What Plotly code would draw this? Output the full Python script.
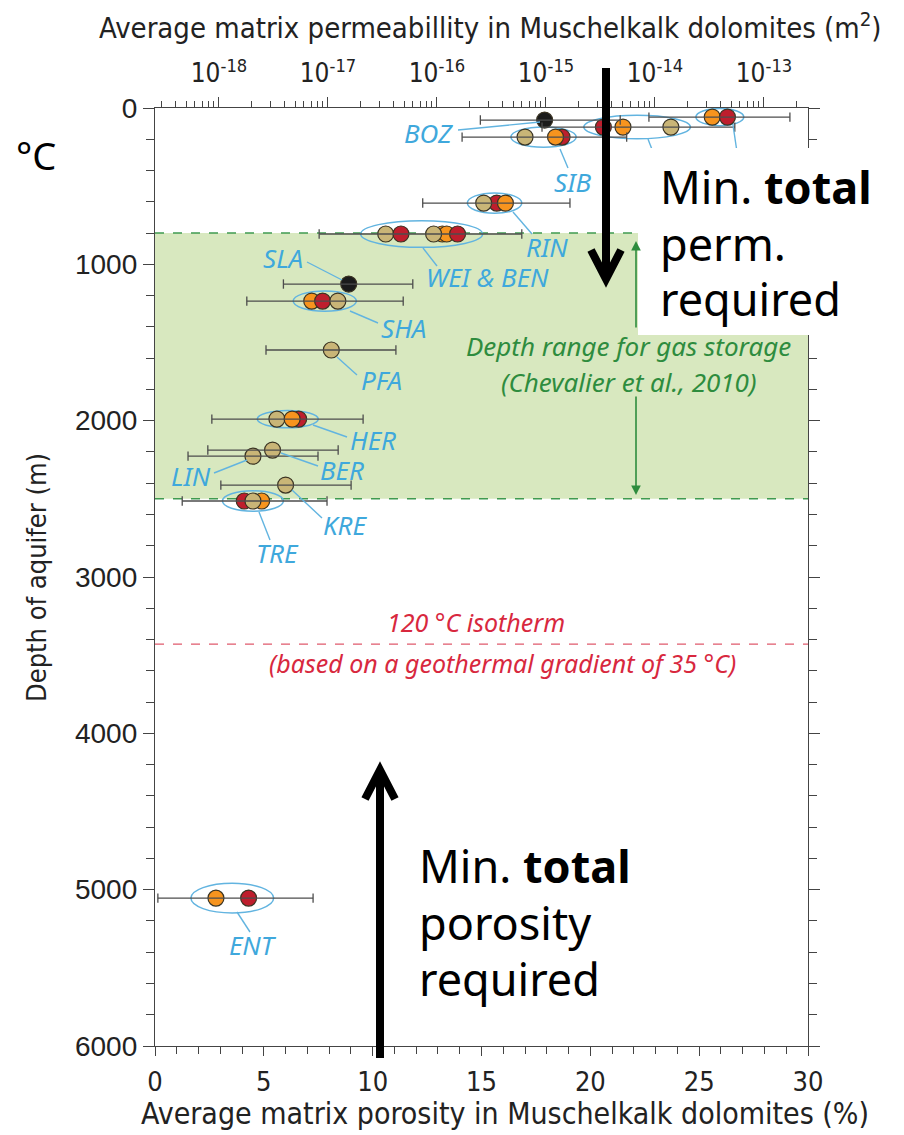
import plotly.graph_objects as go

# ---------------- data ----------------
groups = ["LEN", "SCH", "BOZ", "SIB", "RIN", "WEI & BEN", "SLA", "SHA", "PFA",
          "HER", "BER", "LIN", "KRE", "TRE", "ENT"]
group_depth = [58, 122, 77, 186, 608, 806, 1126, 1235, 1548,
               1990, 2188, 2227, 2412, 2514, 5054]              # m
perm_min = [8.8e-15, 9.2e-16, 2.5e-16, 1.7e-16, 7.4e-17, 8.3e-18, 3.9e-18, 1.8e-18, 2.7e-18,
            8.6e-19, 7.9e-19, 5.2e-19, 1.04e-18, 4.6e-19, 2.75e-19]  # m2
perm_max = [1.73e-13, 5.4e-14, 4.8e-15, 5.5e-15, 1.66e-15, 6.0e-16, 6.0e-17, 4.9e-17, 4.2e-17,
            2.1e-17, 1.24e-17, 8.1e-18, 1.63e-17, 9.8e-18, 7.3e-18]  # m2

pt_group = ["LEN", "LEN",
            "SCH", "SCH", "SCH",
            "BOZ",
            "SIB", "SIB", "SIB",
            "RIN", "RIN", "RIN",
            "WEI & BEN", "WEI & BEN", "WEI & BEN", "WEI & BEN", "WEI & BEN", "WEI & BEN",
            "SLA",
            "SHA", "SHA", "SHA",
            "PFA",
            "HER", "HER", "HER",
            "BER", "LIN", "KRE",
            "TRE", "TRE", "TRE",
            "ENT", "ENT"]
pt_porosity = [25.6, 26.3,
               20.6, 21.5, 23.7,
               17.9,
               17.0, 18.7, 18.4,
               15.7, 15.1, 16.1,
               10.6, 11.3, 13.2, 13.4, 12.8, 13.9,
               8.9,
               7.2, 7.7, 8.4,
               8.1,
               5.6, 6.6, 6.3,
               5.4, 4.5, 6.0,
               4.1, 4.9, 4.5,
               2.8, 4.3]                                       # %
pt_kind = ["orange", "red",
           "red", "orange", "tan",
           "black",
           "tan", "red", "orange",
           "red", "tan", "orange",
           "tan", "red", "orange", "orange", "tan", "red",
           "black",
           "orange", "red", "tan",
           "tan",
           "tan", "red", "orange",
           "tan", "tan", "tan",
           "red", "orange", "tan",
           "orange", "red"]

gas_storage_top, gas_storage_bottom = 800, 2500     # m
isotherm_depth = 3430                                # m

x_ticks = [0, 5, 10, 15, 20, 25, 30]
y_ticks = [0, 1000, 2000, 3000, 4000, 5000, 6000]
perm_ticks = [1e-18, 1e-17, 1e-16, 1e-15, 1e-14, 1e-13]
perm_ticktext = ["10<sup>-18</sup>", "10<sup>-17</sup>", "10<sup>-16</sup>",
                 "10<sup>-15</sup>", "10<sup>-14</sup>", "10<sup>-13</sup>"]
perm_range_log = [-18.587, -12.596]

# ---------------- layout geometry ----------------
BODY = 8                        # default page margin of the html body
W, H = 904 - BODY, 1135 - BODY
PL, PT = 155, 108               # plot area left/top on the page
PW, PH = 653, 938
ML, MT = PL - BODY, PT - BODY
MR, MB = W - ML - PW, H - MT - PH

def px(x):  # page pixel -> paper x
    return (x - PL) / PW

def py(y):  # page pixel -> paper y
    return 1 - (y - PT) / PH

colors = {"tan": "#c9b577", "orange": "#f7941e", "red": "#be1e2d", "black": "#1b1b1b"}
BLUE = "#3fa8dc"
GREEN = "#2e8c3e"
RED = "#d8283e"
AXC = "#444444"
NARROW = "Liberation Sans Narrow, Arial Narrow, DejaVu Sans Condensed, sans-serif"
SANS = "Liberation Sans, Arial, sans-serif"
LABF = "Noto Sans, Open Sans, sans-serif"

depth_of = dict(zip(groups, group_depth))

fig = go.Figure()

# error bars (permeability range, top log axis)
bx, by, cx, cy = [], [], [], []
cap = 30
for g, d, lo, hi in zip(groups, group_depth, perm_min, perm_max):
    bx += [lo, hi, None]
    by += [d, d, None]
    cx += [lo, lo, None, hi, hi, None]
    cy += [d - cap, d + cap, None, d - cap, d + cap, None]
fig.add_trace(go.Scatter(x=bx, y=by, xaxis="x2", yaxis="y", mode="lines",
                         line=dict(color="#4d4d4d", width=1.3), hoverinfo="skip"))
fig.add_trace(go.Scatter(x=cx, y=cy, xaxis="x2", yaxis="y", mode="lines",
                         line=dict(color="#4d4d4d", width=1.3), hoverinfo="skip"))

# porosity points
fig.add_trace(go.Scatter(
    x=pt_porosity, y=[depth_of[g] for g in pt_group], xaxis="x", yaxis="y",
    mode="markers",
    marker=dict(size=16, color=[colors[k] for k in pt_kind],
                line=dict(color="#3a3322", width=1.2)),
    hoverinfo="skip"))

shapes = []
# gas storage band
shapes.append(dict(type="rect", xref="paper", yref="y", x0=0, x1=1,
                   y0=gas_storage_top, y1=gas_storage_bottom,
                   fillcolor="#d8e8bf", line=dict(width=0), layer="below"))
for d in (gas_storage_top, gas_storage_bottom):
    shapes.append(dict(type="line", xref="paper", yref="y", x0=0, x1=1, y0=d, y1=d,
                       line=dict(color="#3f9a50", width=1.5, dash="dash"), layer="below"))
shapes.append(dict(type="line", xref="paper", yref="y", x0=0, x1=1,
                   y0=isotherm_depth, y1=isotherm_depth,
                   line=dict(color="#e05a6c", width=1.3, dash="dash"), layer="below"))

# ellipses round the groups
ell = {"LEN": (0.75, 55), "SCH": (0.9, 75), "SIB": (0.65, 65), "RIN": (0.75, 65),
       "WEI & BEN": (1.15, 85), "SHA": (0.85, 65), "HER": (0.9, 55),
       "TRE": (1.0, 65), "ENT": (1.15, 95)}
for g, (pad, ry) in ell.items():
    xs = [p for p, gg in zip(pt_porosity, pt_group) if gg == g]
    d = depth_of[g]
    shapes.append(dict(type="circle", xref="x", yref="y",
                       x0=min(xs) - pad, x1=max(xs) + pad, y0=d - ry, y1=d + ry,
                       line=dict(color="#62b4e0", width=1.5), layer="below"))

# labels + leader lines (page pixel positions of the annotation layout)
labels = {"BOZ": ((428, 133), (458, 130), (540, 122)),
          "SIB": ((573, 182), (560, 149), (568, 168)),
          "RIN": ((547, 247), (513, 212), (532, 234)),
          "WEI & BEN": ((487, 277), (423, 248), (437, 266)),
          "SLA": ((283, 258), (307, 262), (342, 280)),
          "SHA": ((403, 328), (350, 311), (378, 323)),
          "PFA": ((381, 380), (337, 357), (357, 375)),
          "HER": ((373, 440), (313, 425), (347, 437)),
          "BER": ((342, 470), (281, 453), (318, 466)),
          "LIN": ((191, 476), (214, 473), (247, 460)),
          "KRE": ((345, 525), (292, 490), (322, 518)),
          "TRE": ((277, 553), (259, 512), (270, 540)),
          "ENT": ((253, 945), (237, 912), (250, 932))}
annotations = []
for g, ((tx, ty), (ax0, ay0), (ax1, ay1)) in labels.items():
    shapes.append(dict(type="line", xref="paper", yref="paper",
                       x0=px(ax0), y0=py(ay0), x1=px(ax1), y1=py(ay1),
                       line=dict(color="#62b4e0", width=1.4)))
    annotations.append(dict(xref="paper", yref="paper", x=px(tx), y=py(ty),
                            text=f"<i>{g}</i>", showarrow=False,
                            font=dict(family=LABF, size=26, color=BLUE),
                            xanchor="center", yanchor="middle"))
# leader lines whose labels sit under the white note box
for (ax0, ay0), (ax1, ay1) in (((648, 139), (656, 160)), ((733, 125), (737, 152))):
    shapes.append(dict(type="line", xref="paper", yref="paper",
                       x0=px(ax0), y0=py(ay0), x1=px(ax1), y1=py(ay1),
                       line=dict(color="#62b4e0", width=1.4)))

# white box of the overlay note
shapes.append(dict(type="rect", xref="paper", yref="paper",
                   x0=px(638), x1=px(888), y0=py(148), y1=py(335),
                   fillcolor="white", line=dict(width=0), layer="above"))

# black arrows
BW = 8
shapes.append(dict(type="line", xref="paper", yref="paper", x0=px(606), x1=px(606),
                   y0=py(68), y1=py(278), line=dict(color="black", width=BW), layer="above"))
shapes.append(dict(type="path", xref="paper", yref="paper",
                   path=f"M {px(591)},{py(250)} L {px(606)},{py(279)} L {px(621)},{py(250)}",
                   line=dict(color="black", width=BW), layer="above"))
shapes.append(dict(type="line", xref="paper", yref="paper", x0=px(380), x1=px(380),
                   y0=py(1058), y1=py(772), line=dict(color="black", width=BW), layer="above"))
shapes.append(dict(type="path", xref="paper", yref="paper",
                   path=f"M {px(365)},{py(799)} L {px(380)},{py(770)} L {px(395)},{py(799)}",
                   line=dict(color="black", width=BW), layer="above"))

# green arrows
annotations.append(dict(xref="paper", yref="paper", x=px(636), y=py(241), ax=0, ay=88,
                        text="", showarrow=True, arrowhead=2, arrowsize=1.2,
                        arrowwidth=1.6, arrowcolor=GREEN))
annotations.append(dict(xref="paper", yref="paper", x=px(636), y=py(495), ax=0, ay=-100,
                        text="", showarrow=True, arrowhead=2, arrowsize=1.2,
                        arrowwidth=1.6, arrowcolor=GREEN))

def note(x, y, text, size, color, family=LABF, xanchor="center", angle=0):
    annotations.append(dict(xref="paper", yref="paper", x=px(x), y=py(y), text=text,
                            showarrow=False, xanchor=xanchor, yanchor="middle",
                            textangle=angle,
                            font=dict(family=family, size=size, color=color)))

note(628, 346, "<i>Depth range for gas storage</i>", 26, GREEN)
note(628, 382, "<i>(Chevalier et al., 2010)</i>", 26, GREEN)
note(476, 622, "<i>120 °C isotherm</i>", 25, RED)
note(502, 663, "<i>(based on a geothermal gradient of 35 °C)</i>", 25, RED)

note(658, 187, "Min. <b>total</b>", 45, "black", xanchor="left")
note(658, 243, "perm.", 45, "black", xanchor="left")
note(658, 298, "required", 45, "black", xanchor="left")
note(417, 865, "Min. <b>total</b>", 45, "black", xanchor="left")
note(417, 922, "porosity", 45, "black", xanchor="left")
note(417, 978, "required", 45, "black", xanchor="left")
note(36, 155, "°C", 38, "black")

# axis titles
note(490, 26, "Average matrix permeabillity in Muschelkalk dolomites (m<sup>2</sup>)", 29, "#222", family=NARROW)
note(505, 1113, "Average matrix porosity in Muschelkalk dolomites (%)", 30, "#222", family=NARROW)
note(36, 578, "Depth of aquifer (m)", 27, "#222", family=NARROW, angle=-90)

minor_perm = [k * 10.0 ** e for e in range(-19, -12) for k in range(2, 10)]

fig.update_layout(
    width=W, height=H, margin=dict(l=ML, r=MR, t=MT, b=MB), autosize=False,
    plot_bgcolor="white", paper_bgcolor="white", showlegend=False,
    shapes=shapes, annotations=annotations,
    xaxis=dict(range=[0, 30], tickvals=x_ticks, ticks="outside", ticklen=9, tickwidth=1.2,
               tickcolor=AXC, showline=True, linecolor=AXC, linewidth=1.3,
               showgrid=False, zeroline=False, ticklabelstandoff=2,
               tickfont=dict(family=NARROW, size=27, color="#222"),
               minor=dict(dtick=1, ticks="outside", ticklen=7, tickcolor=AXC, tickwidth=1.1)),
    xaxis2=dict(type="log", overlaying="x", side="top", anchor="y",
                range=perm_range_log, tickvals=perm_ticks, ticktext=perm_ticktext,
                ticks="outside", ticklen=10, tickwidth=1.2, tickcolor=AXC,
                showline=True, linecolor=AXC, linewidth=1.3, showgrid=False,
                tickfont=dict(family=NARROW, size=26, color="#222"), ticklabelstandoff=4,
                minor=dict(tickvals=minor_perm, ticks="outside", ticklen=6,
                           tickcolor=AXC, tickwidth=1.0)),
    yaxis=dict(range=[6000, 0], tickvals=y_ticks, ticks="outside", ticklen=11, tickwidth=1.2,
               tickcolor=AXC, showline=True, linecolor=AXC, linewidth=1.3, mirror="ticks",
               showgrid=False, zeroline=False,
               tickfont=dict(family=SANS, size=28, color="#222"),
               minor=dict(dtick=200, ticks="outside", ticklen=8, tickcolor=AXC, tickwidth=1.1)),
)

fig.write_html("out.html")
